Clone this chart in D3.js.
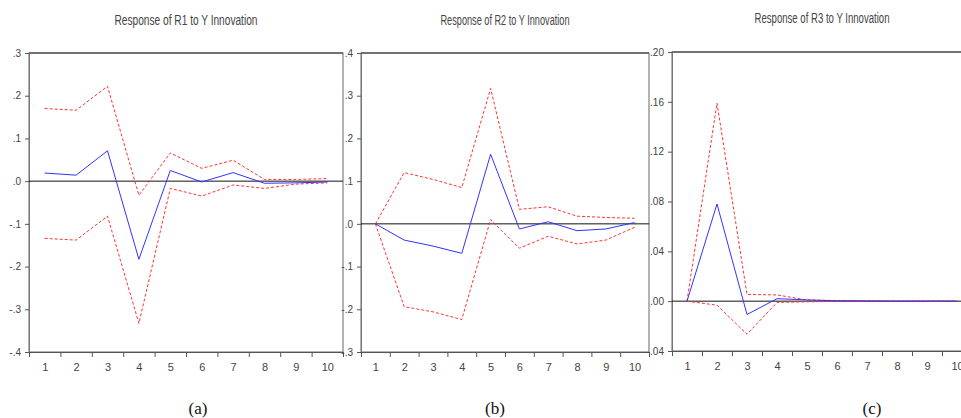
<!DOCTYPE html>
<html>
<head>
<meta charset="utf-8">
<script src="https://cdn.jsdelivr.net/npm/d3@7"></script>
<style>
  body { margin: 0; background: #fff; }
  svg { display: block; }
  .tick text { font-family: 'Liberation Sans Narrow', 'Arial Narrow', 'Liberation Sans', sans-serif; fill: #444; }
</style>
</head>
<body>
<svg id="chart" width="961" height="418"></svg>
<script>
  // periods
  const periods = [1, 2, 3, 4, 5, 6, 7, 8, 9, 10];

  // (a) Response of R1 to Y
  const r1Resp  = [0.019, 0.014, 0.071, -0.183, 0.025, -0.002, 0.020, -0.005, -0.004, -0.002];
  const r1Upper = [0.170, 0.166, 0.222, -0.033, 0.066, 0.030, 0.049, 0.004, 0.004, 0.006];
  const r1Lower = [-0.134, -0.138, -0.082, -0.333, -0.017, -0.035, -0.009, -0.017, -0.007, -0.004];
  const r1Ticks = [0.3, 0.2, 0.1, 0.0, -0.1, -0.2, -0.3, -0.4];

  // (b) Response of R2 to Y
  const r2Resp  = [0.000, -0.038, -0.052, -0.069, 0.163, -0.012, 0.005, -0.016, -0.012, 0.003];
  const r2Upper = [0.000, 0.120, 0.104, 0.085, 0.317, 0.034, 0.040, 0.018, 0.015, 0.013];
  const r2Lower = [0.000, -0.194, -0.206, -0.224, 0.010, -0.057, -0.029, -0.047, -0.038, -0.008];
  const r2Ticks = [0.4, 0.3, 0.2, 0.1, 0.0, -0.1, -0.2, -0.3];

  // (c) Response of R3 to Y
  const r3Resp  = [0.000, 0.078, -0.0107, 0.002, 0.001, 0.0003, 0.0001, 0, 0, 0];
  const r3Upper = [0.000, 0.159, 0.0054, 0.005, 0.001, 0.0005, 0.0003, 0, 0, 0];
  const r3Lower = [0.000, -0.0032, -0.0265, -0.001, -0.0005, -0.0002, 0, 0, 0, 0];
  const r3Ticks = [0.20, 0.16, 0.12, 0.08, 0.04, 0.00, -0.04];

  const svg = d3.select('#chart');

  const fmtDot = digits => v => {
    const s = Math.abs(v).toFixed(digits).replace(/^0/, '');
    return (v < -1e-9 ? '-' : '') + s;
  };

  const drawPanel = (props) => {
    const { x0, x1, yTop, yBot, ticks, digits, resp, upper, lower,
            title, titleY, titleLen, caption, capX } = props;

    const g = svg.append('g');

    const xScale = d3.scaleLinear().domain([0.5, 10.5]).range([x0, x1]);
    const yScale = d3.scaleLinear()
      .domain([d3.min(ticks), d3.max(ticks)])
      .range([yBot, yTop]);

    // frame
    g.append('rect')
      .attr('x', x0).attr('y', yTop)
      .attr('width', x1 - x0).attr('height', yBot - yTop)
      .attr('fill', 'none').attr('stroke', '#666').attr('stroke-width', 1);
    g.append('line')
      .attr('x1', x0).attr('x2', x1)
      .attr('y1', yTop).attr('y2', yTop)
      .attr('stroke', '#333');

    // y axis
    const yAxis = d3.axisLeft(yScale)
      .tickValues(ticks)
      .tickSize(4)
      .tickPadding(4)
      .tickFormat(fmtDot(digits));
    const yG = g.append('g')
      .attr('transform', `translate(${x0},0)`)
      .call(yAxis);
    yG.select('.domain').attr('stroke', '#777');
    yG.selectAll('.tick line').attr('stroke', '#555');
    yG.selectAll('.tick text').style('font-size', '10px');

    // x axis: tick marks on band edges
    const xEdges = d3.range(0.5, 11, 1);
    const xAxisMarks = d3.axisBottom(xScale)
      .tickValues(xEdges)
      .tickSize(5)
      .tickFormat('');
    const xG = g.append('g')
      .attr('transform', `translate(0,${yBot})`)
      .call(xAxisMarks);
    xG.select('.domain').attr('stroke', '#555');
    xG.selectAll('.tick line').attr('stroke', '#555');

    const xAxisLabels = d3.axisBottom(xScale)
      .tickValues(periods)
      .tickSize(0)
      .tickPadding(11)
      .tickFormat(d3.format('d'));
    const xL = g.append('g')
      .attr('transform', `translate(0,${yBot})`)
      .call(xAxisLabels);
    xL.select('.domain').remove();
    xL.selectAll('.tick text').style('font-size', '11px');

    // zero line
    g.append('line')
      .attr('x1', x0).attr('x2', x1)
      .attr('y1', yScale(0)).attr('y2', yScale(0))
      .attr('stroke', '#111').attr('stroke-width', 1);

    const line = d3.line()
      .x((d, i) => xScale(periods[i]))
      .y(d => yScale(d));

    g.append('path')
      .datum(upper)
      .attr('d', line)
      .attr('fill', 'none')
      .attr('stroke', '#ff3333')
      .attr('stroke-width', 1)
      .attr('stroke-dasharray', '3,2');
    g.append('path')
      .datum(lower)
      .attr('d', line)
      .attr('fill', 'none')
      .attr('stroke', '#ff3333')
      .attr('stroke-width', 1)
      .attr('stroke-dasharray', '3,2');
    g.append('path')
      .datum(resp)
      .attr('d', line)
      .attr('fill', 'none')
      .attr('stroke', '#3333ff')
      .attr('stroke-width', 1);

    // title
    svg.append('text')
      .attr('x', (x0 + x1) / 2)
      .attr('y', titleY)
      .attr('text-anchor', 'middle')
      .attr('textLength', titleLen)
      .attr('lengthAdjust', 'spacingAndGlyphs')
      .style('font-family', "'Liberation Sans Narrow', 'Liberation Sans', sans-serif")
      .style('font-size', '14px')
      .style('fill', '#444')
      .text(title);

    // caption
    svg.append('text')
      .attr('x', capX)
      .attr('y', 414)
      .attr('text-anchor', 'middle')
      .style('font-family', "'Liberation Serif', 'Times New Roman', serif")
      .style('font-size', '17px')
      .style('fill', '#111')
      .text(caption);
  };

  drawPanel({
    x0: 29, x1: 343, yTop: 53, yBot: 352,
    ticks: r1Ticks, digits: 1,
    resp: r1Resp, upper: r1Upper, lower: r1Lower,
    title: 'Response of R1 to Y Innovation', titleY: 25, titleLen: 143,
    caption: '(a)', capX: 198
  });

  drawPanel({
    x0: 361, x1: 649, yTop: 53, yBot: 352,
    ticks: r2Ticks, digits: 1,
    resp: r2Resp, upper: r2Upper, lower: r2Lower,
    title: 'Response of R2 to Y Innovation', titleY: 25, titleLen: 129,
    caption: '(b)', capX: 495
  });

  drawPanel({
    x0: 672, x1: 972, yTop: 52, yBot: 351,
    ticks: r3Ticks, digits: 2,
    resp: r3Resp, upper: r3Upper, lower: r3Lower,
    title: 'Response of R3 to Y Innovation', titleY: 23, titleLen: 135,
    caption: '(c)', capX: 872
  });
</script>
</body>
</html>
